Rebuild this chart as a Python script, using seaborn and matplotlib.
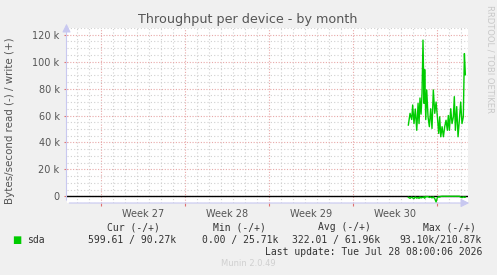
import matplotlib
matplotlib.use("Agg")
import matplotlib.pyplot as plt
import numpy as np
import pandas as pd
import seaborn as sns
from matplotlib.ticker import FixedLocator, MultipleLocator, FuncFormatter

# ---- data (days since start of Week 27; values in kB/s) ----
days = [25.61, 25.75, 25.89, 25.97, 26.08, 26.19, 26.31, 26.42, 26.50, 26.58,
        26.67, 26.75, 26.83, 26.92, 26.97, 27.06, 27.14, 27.25, 27.36, 27.47,
        27.58, 27.69, 27.81, 27.92, 28.03, 28.14, 28.22, 28.31, 28.42, 28.53,
        28.64, 28.75, 28.86, 28.94, 29.03, 29.14, 29.25, 29.36, 29.44, 29.53,
        29.64, 29.75, 29.86, 29.97, 30.08, 30.19, 30.28, 30.36]
write_k = [52.9, 61.6, 57.0, 67.8, 54.0, 64.8, 49.0, 69.0, 54.0, 73.0,
           61.0, 76.7, 116.0, 69.0, 94.0, 57.0, 79.0, 59.0, 51.7, 65.0,
           50.4, 79.0, 61.6, 70.0, 59.0, 46.7, 59.0, 44.2, 51.7, 44.2,
           51.7, 56.5, 49.0, 60.0, 49.0, 65.0, 54.0, 59.0, 74.0, 49.0,
           66.6, 44.2, 56.5, 70.0, 54.0, 59.0, 106.0, 90.27]
read_k = [-0.8, -1.5, -0.6, -1.2, -1.7, -0.5, -1.4, -0.9, -1.6, -0.4,
          -1.3, -0.6, -1.0, -0.3, -1.5, -0.2, -0.3, -0.2, -0.9, -0.5,
          -1.2, -0.4, -1.8, -4.2, -1.0, -0.3, -0.6, -0.1, 0.0, 0.0,
          0.0, 0.0, 0.0, 0.0, 0.0, 0.0, 0.0, 0.0, 0.0, 0.0,
          0.0, 0.0, 0.0, -0.6, -1.0, -0.4, -0.8, -0.6]
week_starts = [0, 7, 14, 21, 28]
week_labels = ["Week 27", "Week 28", "Week 29", "Week 30"]
legend_headers = ["Cur (-/+)", "Min (-/+)", "Avg (-/+)", "Max (-/+)"]
legend_values = ["599.61 / 90.27k", "0.00 / 25.71k", "322.01 / 61.96k", "93.10k/210.87k"]
series_name = "sda"

df = pd.DataFrame({"day": days, "write": [v * 1000 for v in write_k],
                   "read": [v * 1000 for v in read_k]})

W, H = 497, 275
fig = plt.figure(figsize=(W / 100, H / 100), dpi=100, facecolor="#f0f0f0")
ax = fig.add_axes([66.5 / W, 1 - 203 / H, (468 - 66.5) / W, (203 - 28) / H])
ax.set_facecolor("white")

green = "#00cc00"
txt = "#555555"

ax.axhline(0, color="black", lw=1.0, zorder=3)
sns.lineplot(data=df, x="day", y="write", ax=ax, color=green, lw=1.0,
             estimator=None, sort=False, zorder=4)
sns.lineplot(data=df, x="day", y="read", ax=ax, color=green, lw=1.0,
             estimator=None, sort=False, zorder=4)

ax.set_xlim(-2.875, 30.58)
ax.set_ylim(-5000, 125000)

ax.xaxis.set_major_locator(FixedLocator(week_starts))
ax.xaxis.set_minor_locator(MultipleLocator(1))
ax.yaxis.set_major_locator(MultipleLocator(20000))
ax.yaxis.set_minor_locator(MultipleLocator(5000))
ax.yaxis.set_major_formatter(FuncFormatter(lambda v, p: "0" if v == 0 else f"{int(v/1000)} k"))
ax.xaxis.set_major_formatter(FuncFormatter(lambda v, p: ""))

ax.grid(which="minor", color="#d0d0d0", lw=0.8, ls=(0, (1, 2)))
ax.grid(which="major", color="#e8a8a8", lw=0.8, ls=(0, (1, 1.5)))
ax.set_axisbelow(True)

ax.tick_params(axis="both", which="minor", length=0)
ax.tick_params(axis="x", which="major", length=2.5, color="#e07070", width=0.8)
ax.tick_params(axis="y", which="major", length=2, color="#e07070", width=0.8,
               labelsize=7, labelcolor=txt, pad=3)

for s in ax.spines.values():
    s.set_visible(False)

axis_col = "#c8c8f0"
ax.annotate("", xy=(0, 1.04), xytext=(0, 0), xycoords="axes fraction",
            arrowprops=dict(arrowstyle="-|>,head_width=0.25,head_length=0.5",
                            color=axis_col, lw=0.8), annotation_clip=False)
ax.annotate("", xy=(1.01, 0), xytext=(0, 0), xycoords="axes fraction",
            arrowprops=dict(arrowstyle="-|>,head_width=0.25,head_length=0.5",
                            color=axis_col, lw=0.8), annotation_clip=False)

for i, lab in enumerate(week_labels):
    ax.text((week_starts[i] + week_starts[i + 1]) / 2, -0.035, lab,
            transform=ax.get_xaxis_transform(), ha="center", va="top",
            fontsize=7, color=txt)

ax.set_xlabel("")
ax.set_ylabel("Bytes/second read (-) / write (+)", fontsize=7.4, color=txt, labelpad=4)
ax.yaxis.set_label_coords(-52 / 401.5, 0.47)

fig.text(248 / W, 1 - 19 / H, "Throughput per device - by month", ha="center",
         va="center", fontsize=9.2, color=txt)
fig.text(490 / W, 1 - 5 / H, "RRDTOOL / TOBI OETIKER", ha="center", va="top",
         rotation=270, fontsize=6, color="#c8c8c8")

mono = "DejaVu Sans Mono"
hdr_right = [160, 266, 371, 476]
val_right = [176, 278, 380, 482]
for h, xr in zip(legend_headers, hdr_right):
    fig.text(xr / W, 1 - 227 / H, h, ha="right", va="center", fontsize=7,
             family=mono, color="#333333")
for v, xr in zip(legend_values, val_right):
    fig.text(xr / W, 1 - 240 / H, v, ha="right", va="center", fontsize=7,
             family=mono, color="#333333")
fig.text(16.5 / W, 1 - 240 / H, "\u25a0", ha="center", va="center", fontsize=7,
         color=green)
fig.text(27 / W, 1 - 240 / H, series_name, ha="left", va="center", fontsize=7,
         family=mono, color="#333333")
fig.text(482 / W, 1 - 252 / H, "Last update: Tue Jul 28 08:00:06 2026", ha="right",
         va="center", fontsize=7, family=mono, color="#333333")
fig.text(248 / W, 1 - 263 / H, "Munin 2.0.49", ha="center", va="center",
         fontsize=6, color="#d0d0d0")

fig.savefig("out.png", dpi=100, facecolor=fig.get_facecolor())
